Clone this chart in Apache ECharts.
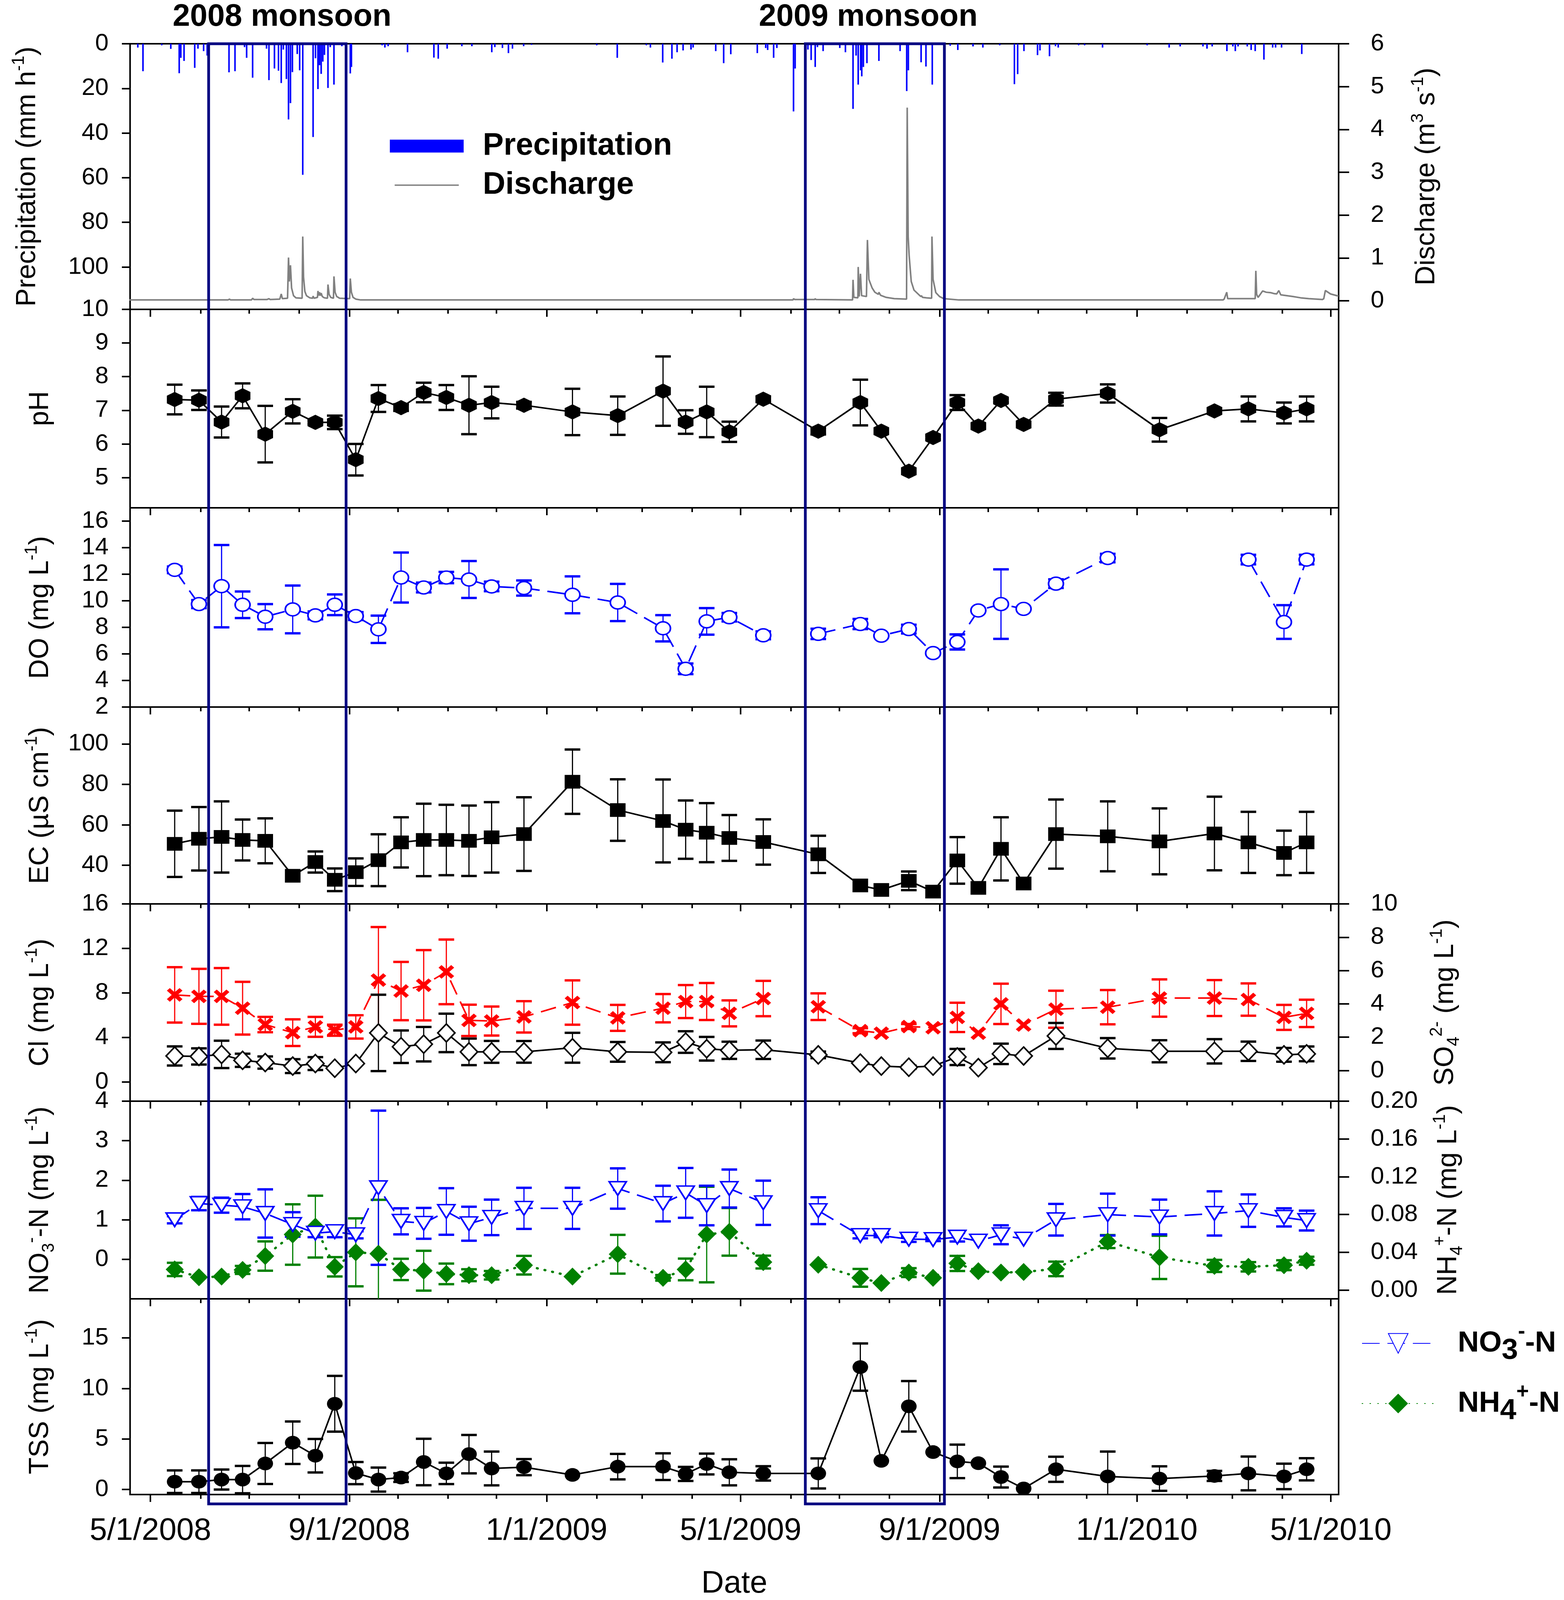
<!DOCTYPE html>
<html lang="en">
<head>
<meta charset="utf-8"/>
<title>Stream chemistry and monsoon, 2008-2010</title>
<script src="https://cdn.jsdelivr.net/npm/echarts@6/dist/echarts.min.js"></script>
<style>
    html, body { margin: 0; padding: 0; background: #fff; overflow: hidden; }
    #chart { width: 4004px; height: 4667px; }
</style>
</head>
<body>
<div id="chart"></div>
<script type="text/javascript">
    // ---- sampling dates (one per field campaign) ----
    var sampleDates = ['2008-05-16','2008-05-31','2008-06-14','2008-06-27','2008-07-11','2008-07-28','2008-08-11',
        '2008-08-23','2008-09-05','2008-09-19','2008-10-03','2008-10-17','2008-10-31','2008-11-14','2008-11-28',
        '2008-12-18','2009-01-17','2009-02-14','2009-03-14','2009-03-28','2009-04-10','2009-04-24','2009-05-15',
        '2009-06-18','2009-07-14','2009-07-27','2009-08-13','2009-08-28','2009-09-12','2009-09-25','2009-10-09',
        '2009-10-23','2009-11-12','2009-12-14','2010-01-15','2010-02-18','2010-03-11','2010-04-02','2010-04-16'];

    var phVal = [7.32,7.30,6.65,7.43,6.29,6.97,6.64,6.64,5.53,7.35,7.08,7.53,7.38,7.15,7.23,7.15,6.95,6.84,7.57,6.65,6.95,6.36,7.33,6.38,7.23,6.38,5.19,6.19,7.23,6.53,7.29,6.58,7.33,7.50,6.42,6.98,7.04,6.92,7.04];
    var phSd  = [0.44,0.29,0.46,0.37,0.84,0.36,0.05,0.20,0.47,0.40,0.10,0.29,0.37,0.86,0.47,0.10,0.69,0.57,1.03,0.35,0.75,0.30,0.08,0.10,0.68,0,0,0.05,0.22,0,0.05,0,0.19,0.27,0.35,0.08,0.37,0.31,0.37];

    var doVal = [12.33,9.75,11.1,9.7,8.8,9.35,8.9,9.7,8.85,7.85,11.75,11.0,11.75,11.6,11.08,10.96,10.45,9.87,7.93,4.88,8.45,8.76,7.4,7.51,8.25,7.37,7.87,6.06,6.9,9.27,9.75,9.39,11.29,13.22,null,null,13.1,8.4,13.1];
    var doSd  = [0.25,0.3,3.1,1.0,0.95,1.8,0.3,0.78,0.3,1.03,1.88,0.37,0.43,1.39,0.36,0.57,1.39,1.4,0.99,0.4,1.0,0.32,0.3,0.39,0.38,0,0.33,0,0.57,0,2.62,0,0.33,0.32,0,0,0.36,1.27,0.36];

    var ecVal = [50.6,53.1,54.0,52.5,52.1,34.8,41.6,32.8,36.6,42.5,51.3,52.5,52.5,52.1,53.8,55.4,81.3,67.3,61.9,57.6,56.1,53.5,51.5,45.4,30.0,27.8,32.3,27.0,42.4,28.8,48.1,31.0,55.4,54.3,51.8,55.7,51.3,46.1,51.3];
    var ecSd  = [16.4,15.7,17.6,10.1,11.1,0,5.2,5.6,6.8,12.8,12.4,17.9,17.4,17.4,17.4,18.2,15.9,15.2,20.5,14.4,14.6,11.3,11.2,9.2,0,0,4.6,0,11.5,0,15.6,0,17.1,17.3,16.3,18.2,15.1,11.0,15.1];

    var clVal = [2.34,2.30,2.48,1.95,1.75,1.43,1.66,1.24,1.66,4.41,3.17,3.40,4.41,2.71,2.71,2.71,3.08,2.71,2.67,3.59,2.99,2.85,2.90,2.44,1.70,1.43,1.33,1.43,2.25,1.29,2.53,2.34,4.14,3.03,2.76,2.76,2.76,2.44,2.53];
    var clSd  = [0.86,0.73,1.23,0.59,0.55,0.62,0.58,0,0,3.43,1.46,1.55,1.73,1.19,0.98,0.97,1.34,0.89,0.89,0.97,1.06,0.77,0.83,0.3,0,0,0.15,0,0.72,0,0.92,0,1.17,0.92,0.99,1.09,0.87,0.62,0.66];

    var so4Val = [4.54,4.45,4.45,3.74,2.76,2.27,2.62,2.42,2.62,5.43,4.77,5.12,5.92,3.01,2.97,3.22,4.08,3.16,3.74,4.14,4.14,3.43,4.32,3.83,2.39,2.24,2.64,2.57,3.19,2.24,4.00,2.73,3.68,3.80,4.35,4.35,4.26,3.19,3.43];
    var so4Sd  = [1.66,1.65,1.70,1.58,0.46,0.80,0.60,0.33,0.70,3.18,1.75,2.11,1.94,0.94,0.87,0.94,1.33,0.78,0.85,0.99,1.11,0.78,1.06,0.80,0.15,0,0.15,0,0.88,0,1.21,0,1.11,1.03,1.12,1.08,0.97,0.75,0.82];

    var no3Val = [1.00,1.41,1.37,1.33,1.16,0.88,0.66,0.70,0.62,1.81,0.96,0.91,1.21,0.90,1.06,1.29,1.29,1.79,1.41,1.68,1.36,1.79,1.43,1.23,0.60,0.60,0.51,0.50,0.56,0.46,0.62,0.51,1.00,1.13,1.07,1.16,1.23,1.06,0.98];
    var no3Sd  = [0.09,0.17,0.19,0.32,0.61,0.31,0.10,0.14,0.09,1.95,0.33,0.39,0.59,0.43,0.45,0.52,0.52,0.51,0.45,0.63,0.50,0.48,0.56,0.34,0.07,0.04,0.07,0.04,0.11,0,0.24,0,0.40,0.53,0.44,0.56,0.41,0.23,0.25];

    var nh4Val = [0.0219,0.0136,0.0144,0.0214,0.0361,0.0589,0.0672,0.0247,0.040,0.0386,0.0219,0.0206,0.0172,0.0158,0.0158,0.0264,0.0144,0.038,0.013,0.0219,0.0589,0.0617,0.0297,0.0269,0.013,0.0075,0.0186,0.013,0.0283,0.020,0.0186,0.0192,0.0225,0.0514,0.0347,0.0256,0.0247,0.0264,0.0311];
    var nh4Sd  = [0.0070,0,0,0.0042,0.0155,0.032,0.0327,0.0102,0.036,0.057,0.0113,0.0211,0.0109,0.0063,0.0045,0.0099,0,0.0205,0.003,0.0115,0.0506,0.0252,0.0068,0,0.0094,0,0.0047,0,0.008,0,0,0,0.0077,0.0069,0.0229,0.0064,0.005,0.0052,0.0042];

    var tssVal = [0.77,0.77,0.98,0.98,2.57,4.63,3.34,8.48,1.62,0.98,1.18,2.72,1.59,3.50,2.08,2.21,1.44,2.26,2.26,1.54,2.52,1.70,1.59,1.59,12.11,2.83,8.23,3.70,2.78,2.60,1.23,0.10,2.00,1.29,1.08,1.34,1.59,1.29,2.00];
    var tssSd  = [1.12,1.12,0.99,1.35,2.03,2.10,1.66,2.76,1.10,1.19,0.43,2.30,1.06,1.90,1.67,0.80,0,1.26,1.32,0.70,1.03,1.29,0.71,1.49,2.34,0,2.50,0,1.66,0,1.03,0,1.24,2.46,1.21,0.50,1.67,1.26,1.10];

    // dashed/dotted series are not joined between these two campaigns
    var dashedBreakDate = '2009-06-01';

    // ---- hourly precipitation spikes and discharge (days after 2008-05-01) ----
    var precipDay = [-7.8,-4.6,7,12.6,17.8,18.8,20.8,27.4,29.4,32.9,35.1,48.6,52.3,58.2,59.5,63.2,71.8,73.3,76.7,79.2,80.9,82.2,84.1,85.4,86.6,87.8,90.8,92.3,94.2,100.6,102.1,103.6,104.6,105.6,106.6,107.6,109.8,111.2,113.5,118.4,123.6,124.3,143.3,145,147,159,175.3,178,183.5,192.6,198.8,211.1,213,217.7,221.4,223.9,230.8,235.7,276,288.7,306.7,309.2,316.8,322.5,325.7,329.4,334.3,335.6,349.6,354.5,358.9,375.3,380.5,381.7,385.4,387.4,397.7,398.7,405.1,406.6,408.6,411.1,412.5,416,426.3,429.8,434.5,436.4,437.7,439.2,439.9,440.9,443.1,450.5,463.6,467.7,468.7,476.6,479.6,483.5,494.6,499.3,508.7,514.8,525.2,534.3,536.3,540.2,548.6,550.1,556,559.7,561.4,574,577.7,588.8,616.4,630,636.8,650.9,653.4,656.6,665.7,669.4,670.9,672.6,678.3,680.7,683.2,688.6,694,695.8,699.5,712];
    var precipMm  = [1.7,12.3,0.7,2.3,13.2,6.3,7.7,10.8,2.2,3.3,5.3,12.8,12.3,1.5,6.3,15.2,2.2,16.3,11.1,12.1,17.6,2.6,15.8,33.9,26.6,12.7,4.6,11.9,58.7,41.8,6.5,20.3,9.6,13.5,8.0,5.0,19.8,1.5,18.3,1.1,13.3,10.4,0.7,1.7,1.1,3.8,6.2,6.7,2.2,1.1,1.1,3.8,1.5,1.9,4.2,2.2,1.1,0.5,0.7,6.3,0.7,1.7,8.4,6.7,3.8,3.0,2.6,1.7,3.3,8.7,4.7,4.2,1.9,2.8,6.3,1.9,30.3,11.1,4.6,2.6,7.3,10.4,1.5,3.3,1.9,3.8,29.2,5.3,18.3,11.9,14.6,10.4,8.7,7.7,3.3,21.2,11.9,8.3,10.2,18.3,0.9,2.8,1.2,1.7,0.7,18.1,13.6,3.3,5.1,3.0,5.6,1.1,1.7,0.7,0.7,1.7,0.7,1.7,1.2,1.2,2.2,1.2,3.3,1.2,3.3,1.2,1.2,2.8,3.3,7.1,1.7,1.7,1.7,4.6];

    var qDay = [-13,48,48.9,49.5,62.5,63.2,64,72,73.3,74,80,80.9,81.6,84.8,85.4,85.9,86.6,87.3,88.5,90,93.8,94.2,94.7,95.5,96.5,98.5,100.3,100.6,101.2,103.3,103.6,104.1,104.6,105.1,105.6,106.3,107.5,109.5,109.8,110.5,111.5,113.2,113.5,114.2,115.2,117,123.2,123.6,124.3,125.3,127,130,
        397.4,397.7,398.5,410.8,411.1,411.6,434.2,434.5,435,437.5,437.7,438.3,439.1,439.8,442.8,443.4,444.3,446.3,448,450.2,450.5,451.5,455,460,467.6,468,468.6,469.2,470.5,472.2,476.4,476.8,477.5,480,483.1,483.3,484,485.7,488,490.6,500,
        663.3,664,665.6,666.2,683.2,683.6,684.1,685,687.8,690,692.8,694.7,696.5,697.8,699,706.4,711.3,716.3,724.8,725.6,726.6,729.8,734.7];
    var qVal = [0.02,0.02,0.04,0.02,0.02,0.06,0.03,0.03,0.05,0.03,0.04,0.16,0.05,0.06,1.01,0.45,0.83,0.3,0.12,0.07,0.06,1.50,0.55,0.22,0.12,0.07,0.06,0.11,0.06,0.08,0.23,0.12,0.2,0.12,0.18,0.1,0.07,0.06,0.38,0.15,0.08,0.06,0.57,0.2,0.1,0.06,0.05,0.52,0.2,0.08,0.04,0.02,
        0.02,0.05,0.03,0.03,0.05,0.03,0.02,0.49,0.08,0.07,0.79,0.1,0.63,0.12,0.1,1.42,0.5,0.3,0.2,0.15,0.2,0.13,0.08,0.05,0.04,4.51,1.5,1.06,0.45,0.25,0.1,0.12,0.08,0.07,0.06,1.50,0.5,0.19,0.1,0.05,0.02,
        0.02,0.04,0.2,0.05,0.05,0.70,0.15,0.08,0.23,0.2,0.19,0.17,0.16,0.24,0.14,0.1,0.07,0.05,0.03,0.05,0.24,0.16,0.11];

    var monsoons = [['2008-06-06', '2008-08-30', '2008 monsoon'], ['2009-06-10', '2009-09-04', '2009 monsoon']];

    // ---- page size: the window may be shorter than the design, so squeeze vertically ----
    var designH = 4667;
    var pageH = Math.min(designH, window.innerHeight || designH);
    var sy = pageH / designH;
    function Y(v) { return Math.round(v * sy); }
    document.getElementById('chart').style.height = pageH + 'px';

    // ---- helpers ----
    var DAY = 86400000;
    var dayZero = Date.UTC(2008, 4, 1);
    function ts(s) { var p = s.split('-'); return Date.UTC(+p[0], +p[1] - 1, +p[2]); }
    var xMin = Date.UTC(2008, 3, 18, 10), xMax = Date.UTC(2010, 4, 5, 19);

    var monthTicks = [];
    for (var y = 2008; y <= 2010; y++) {
        for (var m = 0; m < 12; m++) {
            var t = Date.UTC(y, m, 1);
            if (t >= xMin && t <= xMax) monthTicks.push(t);
        }
    }
    var majorTicks = ['2008-05-01','2008-09-01','2009-01-01','2009-05-01','2009-09-01','2010-01-01','2010-05-01'].map(ts);

    function pairs(vals, withBreak) {
        var out = [];
        for (var i = 0; i < sampleDates.length; i++) {
            if (withBreak && sampleDates[i] === '2009-06-18') out.push([ts(dashedBreakDate), null]);
            out.push([ts(sampleDates[i]), vals[i] == null ? null : vals[i]]);
        }
        return out;
    }
    function errData(vals, sd) {
        var out = [];
        for (var i = 0; i < sampleDates.length; i++) {
            if (vals[i] == null || !sd[i]) continue;
            out.push([ts(sampleDates[i]), vals[i] - sd[i], vals[i] + sd[i]]);
        }
        return out;
    }

    var FONT = "'Liberation Sans', Arial, sans-serif";
    var gridTops = [128, 902, 1481, 2062, 2637, 3212, 3788];
    var gridBottoms = [902, 1481, 2062, 2637, 3212, 3788, 4364];
    var boxBottom = 4387;
    var titleNudge = [12, -17];

    // rotated axis names run along the squeezed direction, so their size follows sy
    var nameFs = Math.round(80 * sy), supFs = Math.round(50 * sy);
    var nameRich = {
        t: { fontSize: nameFs, fontFamily: FONT, color: '#000', lineHeight: Math.round(nameFs * 1.25) },
        sup: { fontSize: supFs, fontFamily: FONT, color: '#000', verticalAlign: 'top', lineHeight: Math.round(supFs * 1.1) },
        sub: { fontSize: supFs, fontFamily: FONT, color: '#000', verticalAlign: 'bottom', lineHeight: Math.round(supFs * 1.1) }
    };

    function yAxis(grid, pos, min, max, ticks, name, gap, opts) {
        opts = opts || {};
        return {
            gridIndex: grid, type: 'value', position: pos, min: min, max: max, inverse: !!opts.inverse,
            axisLine: { show: true, onZero: false, lineStyle: { color: '#000', width: 4 } },
            axisTick: { show: true, length: pos === 'left' ? 21 : 27, customValues: ticks, lineStyle: { color: '#000', width: 4 } },
            axisLabel: {
                show: true, customValues: ticks, margin: pos === 'left' ? 55 : 82,
                fontSize: 62, fontFamily: FONT, color: '#000',
                formatter: opts.fmt || function (v) { return String(v); }
            },
            splitLine: { show: false },
            name: name, nameLocation: 'middle', nameRotate: 90, nameGap: gap,
            nameTextStyle: { rich: nameRich }
        };
    }

    var grids = [], xAxes = [];
    for (var g = 0; g < 7; g++) {
        grids.push({ left: 333, width: 3094, top: Y(gridTops[g]), height: Y(gridBottoms[g]) - Y(gridTops[g]), show: true,
            borderColor: '#000', borderWidth: 4, backgroundColor: 'transparent', containLabel: false });
        xAxes.push({
            gridIndex: g, type: 'value', position: 'bottom', min: xMin, max: xMax,
            axisLine: { show: true, onZero: false, lineStyle: { color: '#000', width: 4 } },
            axisTick: { show: true, length: Y(12), customValues: monthTicks, lineStyle: { color: '#000', width: 4 } },
            axisLabel: { show: false }, splitLine: { show: false }
        });
        var major = {
            gridIndex: g, type: 'value', position: 'bottom', min: xMin, max: xMax,
            axisLine: { show: false, onZero: false },
            axisTick: { show: true, length: Y(22), customValues: majorTicks, lineStyle: { color: '#000', width: 4 } },
            axisLabel: { show: false }, splitLine: { show: false }
        };
        if (g === 6) {
            major.axisLabel = {
                show: true, customValues: majorTicks, margin: Y(62), fontSize: 80, fontFamily: FONT, color: '#000',
                formatter: function (v) { var d = new Date(v); return (d.getUTCMonth() + 1) + '/' + d.getUTCDate() + '/' + d.getUTCFullYear(); }
            };
            major.name = 'Date';
            major.nameLocation = 'middle';
            major.nameGap = Y(215);
            major.nameTextStyle = { fontSize: 80, fontFamily: FONT, color: '#000' };
        }
        xAxes.push(major);
    }

    var yAxes = [
        yAxis(0, 'left', 0, 119, [0, 20, 40, 60, 80, 100], '{t|Precipitation (mm h}{sup|-1}{t|)}', 218, { inverse: true }),
        yAxis(0, 'right', -0.2, 6, [0, 1, 2, 3, 4, 5, 6], '{t|Discharge (m}{sup|3}{t| s}{sup|-1}{t|)}', 182),
        yAxis(1, 'left', 4.1, 10, [5, 6, 7, 8, 9, 10], '{t|pH}', 185),
        yAxis(2, 'left', 2, 17, [2, 4, 6, 8, 10, 12, 14, 16], '{t|DO (mg L}{sup|-1}{t|)}', 185),
        yAxis(3, 'left', 20.9, 118.2, [40, 60, 80, 100], '{t|EC (µS cm}{sup|-1}{t|)}', 185),
        yAxis(4, 'left', -1.72, 16, [0, 4, 8, 12, 16], '{t|Cl (mg L}{sup|-1}{t|)}', 185),
        yAxis(4, 'right', -1.84, 10, [0, 2, 4, 6, 8, 10], '{t|SO}{sub|4}{sup|2-}{t| (mg L}{sup|-1}{t|)}', 230),
        yAxis(5, 'left', -1, 4, [0, 1, 2, 3, 4], '{t|NO}{sub|3}{sup|-}{t|-N (mg L}{sup|-1}{t|)}', 185),
        yAxis(5, 'right', -0.0092, 0.2, [0, 0.04, 0.08, 0.12, 0.16, 0.2], '{t|NH}{sub|4}{sup|+}{t|-N (mg L}{sup|-1}{t|)}', 238,
            { fmt: function (v) { return v.toFixed(2); } }),
        yAxis(6, 'left', -0.5, 18.87, [0, 5, 10, 15], '{t|TSS (mg L}{sup|-1}{t|)}', 185)
    ];

    function errorBars(color) {
        return function (params, api) {
            var x = api.value(0), lo = api.value(1), hi = api.value(2);
            var a = api.coord([x, hi]), b = api.coord([x, lo]);
            var w = 20;
            return {
                type: 'group', children: [
                    { type: 'line', shape: { x1: a[0], y1: a[1], x2: b[0], y2: b[1] }, style: { stroke: color, lineWidth: 3 } },
                    { type: 'line', shape: { x1: a[0] - w, y1: a[1], x2: a[0] + w, y2: a[1] }, style: { stroke: color, lineWidth: 6 } },
                    { type: 'line', shape: { x1: b[0] - w, y1: b[1], x2: b[0] + w, y2: b[1] }, style: { stroke: color, lineWidth: 6 } }
                ]
            };
        };
    }
    function errSeries(xi, yi, vals, sd, color) {
        return { type: 'custom', xAxisIndex: xi, yAxisIndex: yi, clip: true, z: 2, silent: true,
            renderItem: errorBars(color), encode: { x: 0, y: [1, 2] }, data: errData(vals, sd) };
    }
    function sz(w, h) { return [w, Math.round(h * sy)]; }

    var hexPath = 'path://M0,-1L0.866,-0.5L0.866,0.5L0,1L-0.866,0.5L-0.866,-0.5Z';
    var xPath = 'path://M-1,-0.62L-0.62,-1L0,-0.38L0.62,-1L1,-0.62L0.38,0L1,0.62L0.62,1L0,0.38L-0.62,1L-1,0.62L-0.38,0Z';
    var triDownPath = 'path://M0,0L10,0L5,9Z';
    // thin horizontal bar inside an invisible full-height box, for the discharge legend key
    var lineKey = 'path://M0,0L0.01,0L0.01,38L0,38Z M0,17L189,17L189,21L0,21Z';

    var series = [
        {
            name: 'Precipitation', type: 'bar', xAxisIndex: 0, yAxisIndex: 0, barWidth: 4,
            itemStyle: { color: '#0000ff' },
            data: precipDay.map(function (d, i) { return [dayZero + d * DAY, precipMm[i]]; })
        },
        {
            name: 'Discharge', type: 'line', xAxisIndex: 0, yAxisIndex: 1, symbol: 'none', showSymbol: false,
            lineStyle: { color: '#808080', width: 4 }, itemStyle: { color: '#808080' },
            data: qDay.map(function (d, i) { return [dayZero + d * DAY, qVal[i]]; })
        },

        errSeries(2, 2, phVal, phSd, '#000'),
        { name: 'pH', type: 'line', xAxisIndex: 2, yAxisIndex: 2, data: pairs(phVal), symbol: hexPath, symbolSize: sz(40, 44), z: 3,
            itemStyle: { color: '#000' }, lineStyle: { color: '#000', width: 4 } },

        errSeries(4, 3, doVal, doSd, '#0000ff'),
        { name: 'DO', type: 'line', xAxisIndex: 4, yAxisIndex: 3, data: pairs(doVal, true), symbol: 'circle', symbolSize: sz(38, 38), z: 3,
            itemStyle: { color: '#fff', borderColor: '#0000ff', borderWidth: 4 },
            lineStyle: { color: '#0000ff', width: 4, type: [45, 20] } },

        errSeries(6, 4, ecVal, ecSd, '#000'),
        { name: 'EC', type: 'line', xAxisIndex: 6, yAxisIndex: 4, data: pairs(ecVal), symbol: 'rect', symbolSize: sz(40, 40), z: 3,
            itemStyle: { color: '#000' }, lineStyle: { color: '#000', width: 4 } },

        errSeries(8, 6, so4Val, so4Sd, '#ff0000'),
        { name: 'SO4', type: 'line', xAxisIndex: 8, yAxisIndex: 6, data: pairs(so4Val, true), symbol: xPath, symbolSize: sz(40, 40), z: 3,
            itemStyle: { color: '#ff0000' }, lineStyle: { color: '#ff0000', width: 4, type: [40, 20] } },
        errSeries(8, 5, clVal, clSd, '#000'),
        { name: 'Cl', type: 'line', xAxisIndex: 8, yAxisIndex: 5, data: pairs(clVal), symbol: 'diamond', symbolSize: sz(44, 52), z: 4,
            itemStyle: { color: '#fff', borderColor: '#000', borderWidth: 4 }, lineStyle: { color: '#000', width: 4 } },

        errSeries(10, 8, nh4Val, nh4Sd, '#008000'),
        { name: 'NH4-N', type: 'line', xAxisIndex: 10, yAxisIndex: 8, data: pairs(nh4Val, true), symbol: 'diamond', symbolSize: sz(46, 52), z: 3,
            itemStyle: { color: '#008000' }, lineStyle: { color: '#008000', width: 6, type: [2, 18], cap: 'round' } },
        errSeries(10, 7, no3Val, no3Sd, '#0000ff'),
        { name: 'NO3-N', type: 'line', xAxisIndex: 10, yAxisIndex: 7, data: pairs(no3Val, true), symbol: triDownPath, symbolSize: sz(44, 40), z: 4,
            itemStyle: { color: '#fff', borderColor: '#0000ff', borderWidth: 4 },
            lineStyle: { color: '#0000ff', width: 4, type: [45, 20] } },

        errSeries(12, 9, tssVal, tssSd, '#000'),
        { name: 'TSS', type: 'line', xAxisIndex: 12, yAxisIndex: 9, data: pairs(tssVal), symbol: 'circle', symbolSize: sz(40, 40), z: 3,
            itemStyle: { color: '#000' }, lineStyle: { color: '#000', width: 4 } }
    ];

    var chart = echarts.init(document.getElementById('chart'), null, { renderer: 'canvas', height: pageH });
    chart.setOption({
        animation: false,
        backgroundColor: '#fff',
        grid: grids,
        xAxis: xAxes,
        yAxis: yAxes,
        legend: [
            {
                data: [{ name: 'Precipitation', icon: 'rect' }, { name: 'Discharge', icon: lineKey }],
                orient: 'vertical', left: 993, top: Y(375), itemWidth: 189, itemHeight: Y(38), itemGap: Y(23),
                selectedMode: false,
                textStyle: { fontSize: 80, fontWeight: 'bold', fontFamily: FONT, color: '#000', lineHeight: Y(80), padding: [0, 0, 0, 44] }
            },
            {
                data: ['NO3-N', 'NH4-N'],
                orient: 'vertical', left: 3481, top: Y(3848), itemWidth: 185, itemHeight: Y(72), itemGap: Y(46),
                selectedMode: false,
                formatter: function (n) {
                    return n === 'NO3-N' ? '{b|NO}{s|3}{p|-}{b|-N}' : '{b|NH}{s|4}{p|+}{b|-N}';
                },
                textStyle: {
                    padding: [0, 0, 0, 55],
                    rich: {
                        b: { fontSize: 75, fontWeight: 'bold', fontFamily: FONT, color: '#000', lineHeight: Y(130) },
                        s: { fontSize: 75, fontWeight: 'bold', fontFamily: FONT, color: '#000', verticalAlign: 'bottom', lineHeight: Y(70) },
                        p: { fontSize: 55, fontWeight: 'bold', fontFamily: FONT, color: '#000', verticalAlign: 'top', lineHeight: Y(60) }
                    }
                }
            }
        ],
        series: series
    });

    // monsoon boxes: x from the shared date scale, spanning all panels
    var graphics = [];
    monsoons.forEach(function (mo, k) {
        var x0 = chart.convertToPixel({ xAxisIndex: 0 }, ts(mo[0]));
        var x1 = chart.convertToPixel({ xAxisIndex: 0 }, ts(mo[1]));
        graphics.push({
            type: 'rect', z: 100, silent: true,
            shape: { x: x0, y: Y(gridTops[0]), width: x1 - x0, height: Y(boxBottom) - Y(gridTops[0]) },
            style: { fill: null, stroke: '#000080', lineWidth: 7 }
        });
        graphics.push({
            type: 'text', z: 100, silent: true, x: (x0 + x1) / 2 + titleNudge[k], y: Y(50),
            style: { text: mo[2], fontSize: 80, fontWeight: 'bold', fontFamily: FONT, fill: '#000', align: 'center', verticalAlign: 'middle' }
        });
    });
    chart.setOption({ graphic: graphics });
</script>
</body>
</html>
